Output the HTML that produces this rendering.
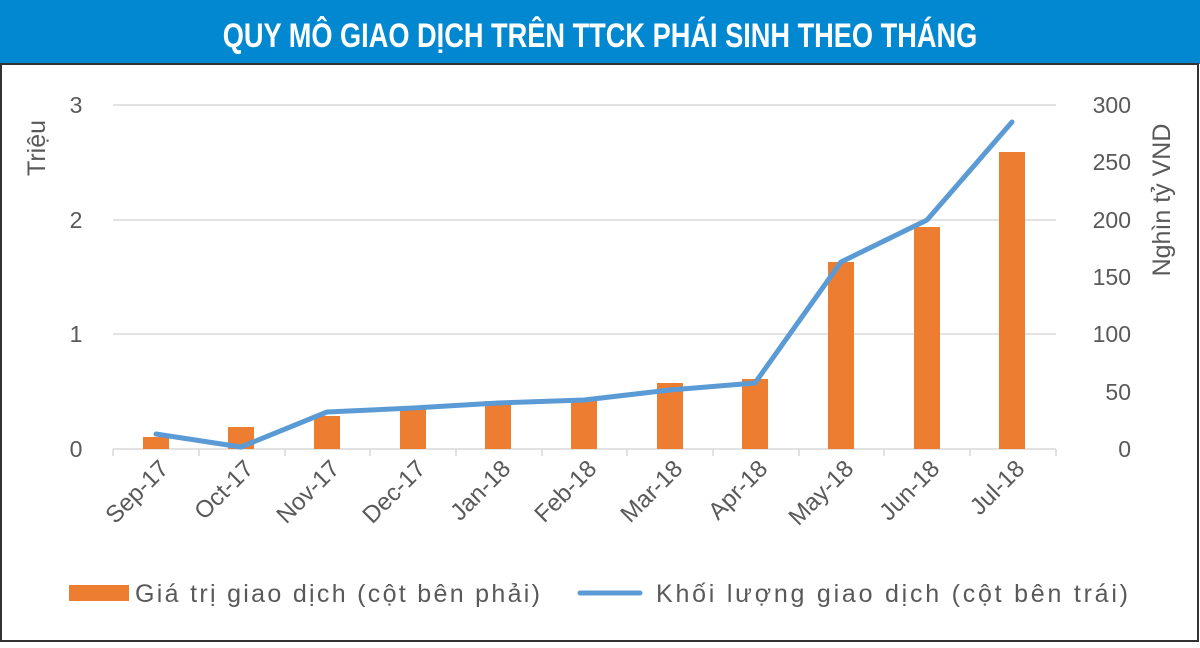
<!DOCTYPE html>
<html><head><meta charset="utf-8"><style>
body{margin:0;width:1200px;height:643px;overflow:hidden;background:#fff;font-family:"Liberation Sans","DejaVu Sans",sans-serif}
</style></head><body>
<svg width="1200" height="643" viewBox="0 0 1200 643" xmlns="http://www.w3.org/2000/svg" font-family="Liberation Sans, DejaVu Sans, sans-serif">
<rect x="0" y="0" width="1200" height="643" fill="#fff"/>
<rect x="0" y="0" width="1200" height="64" fill="#0288d1"/>
<text x="600" y="47" text-anchor="middle" fill="#fff" font-size="34" font-weight="bold" font-family="Liberation Sans Narrow, Liberation Sans, sans-serif" transform="translate(600,0) scale(0.8,1) translate(-600,0)">QUY MÔ GIAO DỊCH TRÊN TTCK PHÁI SINH THEO THÁNG</text>
<rect x="1" y="64" width="1197" height="577" fill="none" stroke="#333" stroke-width="2"/>
<g stroke="#d9d9d9" stroke-width="1.5">
<line x1="113" y1="105" x2="1056" y2="105"/>
<line x1="113" y1="220" x2="1056" y2="220"/>
<line x1="113" y1="334" x2="1056" y2="334"/>
<line x1="113" y1="449" x2="1056" y2="449"/>
<line x1="113" y1="449" x2="113" y2="456"/><line x1="199" y1="449" x2="199" y2="456"/><line x1="285" y1="449" x2="285" y2="456"/><line x1="370" y1="449" x2="370" y2="456"/><line x1="456" y1="449" x2="456" y2="456"/><line x1="542" y1="449" x2="542" y2="456"/><line x1="627" y1="449" x2="627" y2="456"/><line x1="713" y1="449" x2="713" y2="456"/><line x1="799" y1="449" x2="799" y2="456"/><line x1="884" y1="449" x2="884" y2="456"/><line x1="970" y1="449" x2="970" y2="456"/><line x1="1056" y1="449" x2="1056" y2="456"/>
</g>
<g fill="#595959" font-size="23">
<text x="76" y="113" text-anchor="middle">3</text>
<text x="76" y="228" text-anchor="middle">2</text>
<text x="76" y="342" text-anchor="middle">1</text>
<text x="76" y="457" text-anchor="middle">0</text>
<g text-anchor="end">
<text x="1131" y="113">300</text><text x="1131" y="170">250</text><text x="1131" y="228">200</text><text x="1131" y="285">150</text><text x="1131" y="342">100</text><text x="1131" y="400">50</text><text x="1131" y="457">0</text>
</g>
<text transform="translate(45,148) rotate(-90)" text-anchor="middle" font-size="25">Triệu</text>
<text transform="translate(1170,200) rotate(-90)" text-anchor="middle" font-size="25">Nghìn tỷ VND</text>
</g>
<g fill="#ed7d31">
<rect x="143" y="437" width="26" height="12"/>
<rect x="228" y="427" width="26" height="22"/>
<rect x="314" y="416" width="26" height="33"/>
<rect x="400" y="408" width="26" height="41"/>
<rect x="485" y="401" width="26" height="48"/>
<rect x="571" y="398" width="26" height="51"/>
<rect x="657" y="383" width="26" height="66"/>
<rect x="742" y="379" width="26" height="70"/>
<rect x="828" y="262" width="26" height="187"/>
<rect x="914" y="227" width="26" height="222"/>
<rect x="999" y="152" width="26" height="297"/>
</g>
<polyline points="156,434 241,447 327,412 413,408 498,403 584,400 670,390 755,383 841,262 927,220 1012,122" fill="none" stroke="#5b9bd5" stroke-width="5" stroke-linejoin="round" stroke-linecap="round"/>
<g fill="#595959" font-size="24" text-anchor="end">
<text transform="translate(170,470) rotate(-45)">Sep-17</text>
<text transform="translate(255,470) rotate(-45)">Oct-17</text>
<text transform="translate(341,470) rotate(-45)">Nov-17</text>
<text transform="translate(427,470) rotate(-45)">Dec-17</text>
<text transform="translate(512,470) rotate(-45)">Jan-18</text>
<text transform="translate(598,470) rotate(-45)">Feb-18</text>
<text transform="translate(684,470) rotate(-45)">Mar-18</text>
<text transform="translate(769,470) rotate(-45)">Apr-18</text>
<text transform="translate(855,470) rotate(-45)">May-18</text>
<text transform="translate(941,470) rotate(-45)">Jun-18</text>
<text transform="translate(1026,470) rotate(-45)">Jul-18</text>
</g>
<rect x="69" y="585" width="60" height="16" fill="#ed7d31"/>
<text x="135" y="602" fill="#595959" font-size="25" textLength="405">Giá trị giao dịch (cột bên phải)</text>
<line x1="580" y1="593" x2="640" y2="593" stroke="#5b9bd5" stroke-width="5" stroke-linecap="round"/>
<text x="656" y="602" fill="#595959" font-size="25" textLength="472">Khối lượng giao dịch (cột bên trái)</text>
</svg>
</body></html>
